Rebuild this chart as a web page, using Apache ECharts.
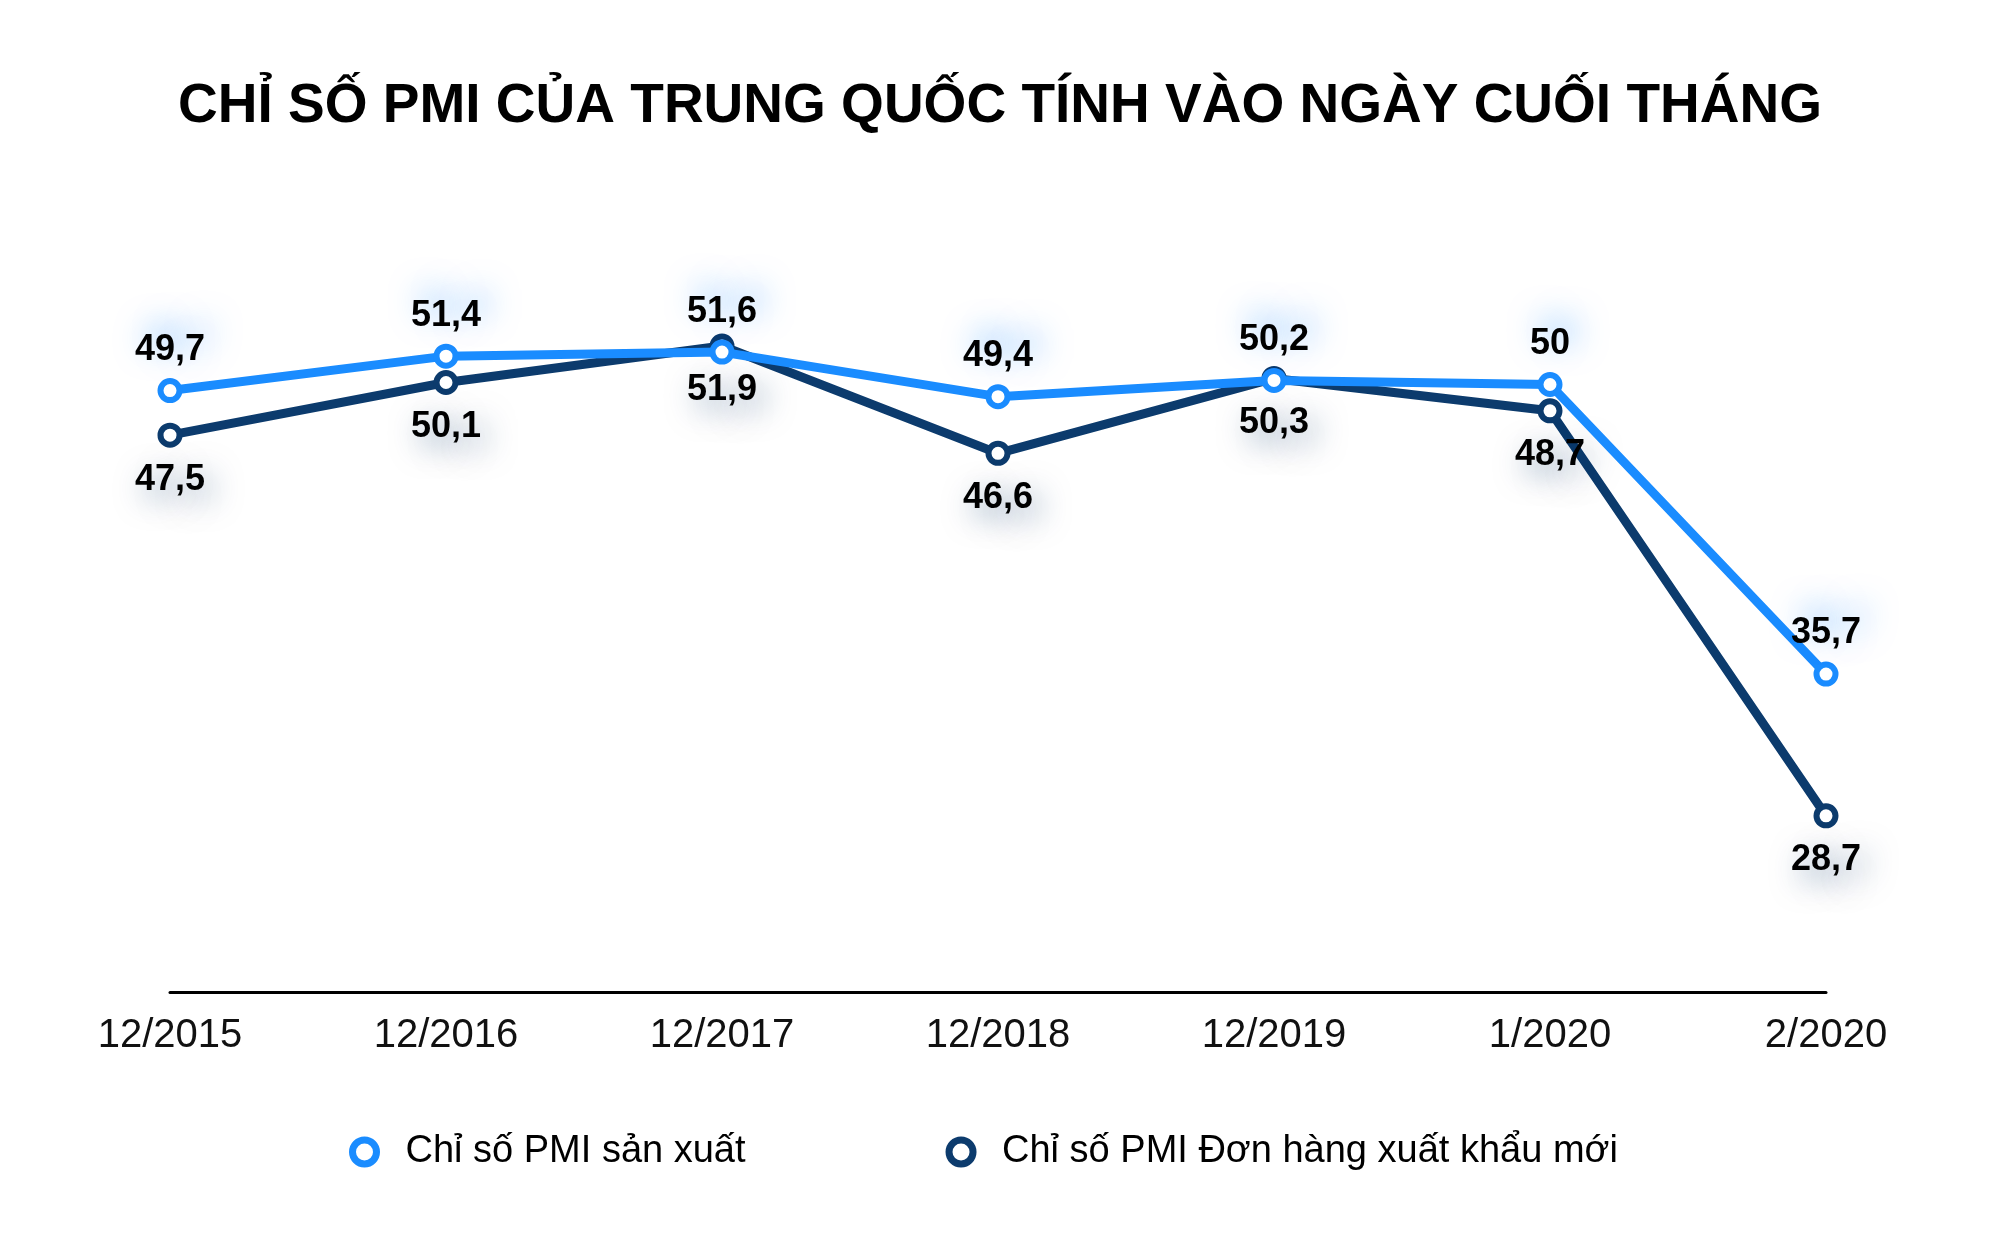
<!DOCTYPE html>
<html>
  <head>
    <meta charset="utf-8" />
    <title>PMI Trung Quốc</title>
    <script src="https://cdn.jsdelivr.net/npm/echarts@6.0.0/dist/echarts.min.js"></script>
    <style>
      html, body { margin: 0; padding: 0; background: #fff; }
    </style>
  </head>
  <body>
    <div id="chart" style="width: 2000px;height:1234px;"></div>
    <script>
        // dữ liệu
        var months = ['12/2015', '12/2016', '12/2017', '12/2018', '12/2019', '1/2020', '2/2020'];
        var pmiSanXuat = [49.7, 51.4, 51.6, 49.4, 50.2, 50, 35.7];
        var pmiXuatKhau = [47.5, 50.1, 51.9, 46.6, 50.3, 48.7, 28.7];
        var nameSanXuat = 'Chỉ số PMI sản xuất';
        var nameXuatKhau = 'Chỉ số PMI Đơn hàng xuất khẩu mới';

        var lightBlue = '#1a8cff';
        var navy = '#0c3b6d';

        var myChart = echarts.init(document.getElementById('chart'));

        function fmt(p) {
          return String(p.value).replace('.', ',');
        }

        var option = {
          backgroundColor: '#fff',
          title: {
            text: 'CHỈ SỐ PMI CỦA TRUNG QUỐC TÍNH VÀO NGÀY CUỐI THÁNG',
            left: 'center',
            top: 74,
            textStyle: {
              fontFamily: 'Liberation Sans',
              fontSize: 55,
              fontWeight: 'bold',
              color: '#000',
            },
          },
          legend: {
            data: [
              { name: nameSanXuat, icon: 'circle', itemStyle: { color: '#fff', borderColor: lightBlue, borderWidth: 7 } },
              { name: nameXuatKhau, icon: 'circle', itemStyle: { color: '#fff', borderColor: navy, borderWidth: 7 } },
            ],
            left: 344,
            top: 1128,
            itemWidth: 24,
            itemHeight: 24,
            itemGap: 200,
            textStyle: {
              fontFamily: 'Liberation Sans',
              fontSize: 38,
              color: '#000',
              padding: [0, 0, 0, 24],
            },
          },
          grid: {
            left: 170,
            right: 174,
            top: 182,
            bottom: 242,
          },
          xAxis: {
            type: 'category',
            data: months,
            boundaryGap: false,
            axisLine: { lineStyle: { color: '#000', width: 3 } },
            axisTick: { show: false },
            axisLabel: {
              margin: 24,
              fontFamily: 'Liberation Sans',
              fontSize: 40,
              color: '#111',
            },
          },
          yAxis: {
            type: 'value',
            min: 20,
            max: 60,
            show: false,
            splitLine: { show: false },
          },
          series: [
            {
              name: nameXuatKhau,
              type: 'line',
              data: pmiXuatKhau,
              symbol: 'circle',
              symbolSize: 19,
              lineStyle: { color: navy, width: 9 },
              itemStyle: { color: '#fff', borderColor: navy, borderWidth: 6 },
              label: {
                show: true,
                position: 'bottom',
                distance: 14,
                formatter: fmt,
                fontFamily: 'Liberation Sans',
                fontSize: 36,
                fontWeight: 'bold',
                color: '#000',
                textShadowColor: 'rgba(12,59,109,0.5)',
                textShadowBlur: 30,
                textShadowOffsetX: 8,
                textShadowOffsetY: 10,
              },
              z: 2,
            },
            {
              name: nameSanXuat,
              type: 'line',
              data: pmiSanXuat,
              symbol: 'circle',
              symbolSize: 19,
              lineStyle: { color: lightBlue, width: 9 },
              itemStyle: { color: '#fff', borderColor: lightBlue, borderWidth: 6 },
              label: {
                show: true,
                position: 'top',
                distance: 10,
                formatter: fmt,
                fontFamily: 'Liberation Sans',
                fontSize: 36,
                fontWeight: 'bold',
                color: '#000',
                textShadowColor: 'rgba(26,140,255,0.5)',
                textShadowBlur: 30,
                textShadowOffsetX: 8,
                textShadowOffsetY: -10,
              },
              z: 3,
            },
          ],
        };

        myChart.setOption(option);
    </script>
  </body>
</html>
